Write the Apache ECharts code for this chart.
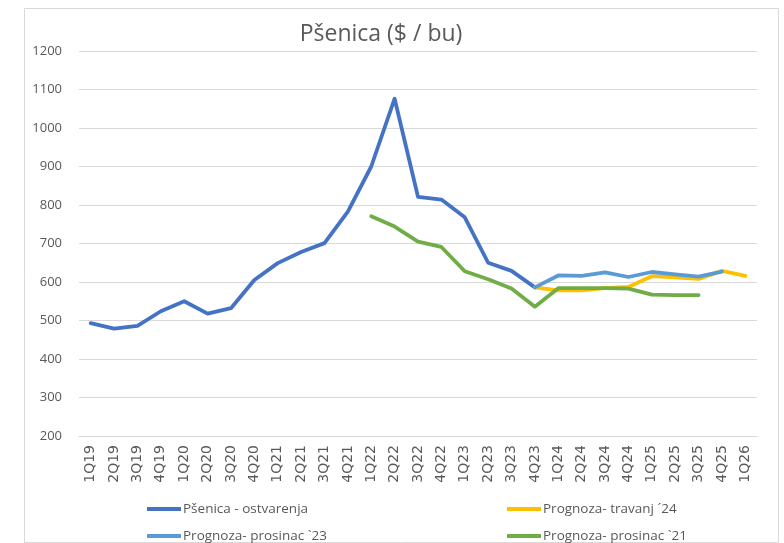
<!DOCTYPE html>
<html><head><meta charset="utf-8">
<script src="https://cdn.jsdelivr.net/npm/echarts@6/dist/echarts.min.js"></script>
<style>html,body{margin:0;padding:0;background:#fff}#c{width:784px;height:543px}</style>
</head><body><div id="c"></div>
<script>
const categories = ['1Q19','2Q19','3Q19','4Q19','1Q20','2Q20','3Q20','4Q20','1Q21','2Q21','3Q21','4Q21','1Q22','2Q22','3Q22','4Q22','1Q23','2Q23','3Q23','4Q23','1Q24','2Q24','3Q24','4Q24','1Q25','2Q25','3Q25','4Q25','1Q26'];
const ostvarenja = [493,479,486,524,550,518,532,605,649,678,701,783,900,1076,821,814,768,650,629,586,null,null,null,null,null,null,null,null,null];
const travanj24 = [null,null,null,null,null,null,null,null,null,null,null,null,null,null,null,null,null,null,null,586,578,578,584,587,615,612,608,629,616];
const prosinac23 = [null,null,null,null,null,null,null,null,null,null,null,null,null,null,null,null,null,null,null,586,617,616,625,613,626,620,614,627,null];
const prosinac21 = [null,null,null,null,null,null,null,null,null,null,null,null,771,744,705,691,628,607,583,536,584,584,584,583,567,566,566,null,null];
const seriesNames = ['Pšenica - ostvarenja','Prognoza- travanj ´24','Prognoza- prosinac `23','Prognoza- prosinac `21'];
const colors = ['#4472C4','#FFC000','#5B9BD5','#70AD47'];
const yMin = 200, yMax = 1200, yStep = 100;

const FONT = 'Open Sans';
const dataSets = [ostvarenja, travanj24, prosinac23, prosinac21];
const chart = echarts.init(document.getElementById('c'), null, {renderer:'canvas'});
function legendAt(i, left, top){
  return {data:[seriesNames[i]], left:left, top:top, padding:0, icon:'rect', itemWidth:34, itemHeight:4, itemGap:0,
    textStyle:{fontFamily:FONT, fontSize:13.5, color:'#595959', padding:[0,0,0,-3]}, selectedMode:false};
}
chart.setOption({
  animation:false,
  backgroundColor:'#fff',
  graphic:[{type:'rect', shape:{x:24.5,y:8.5,width:754,height:534}, style:{fill:'none', stroke:'#d9d9d9', lineWidth:1}, silent:true}],
  title:{text:'Pšenica ($ / bu)', left:376, top:18, textAlign:'center',
    textStyle:{fontFamily:FONT, fontSize:23, fontWeight:'normal', color:'#595959'}},
  grid:{left:79, right:27, top:51, bottom:107, containLabel:false},
  legend:[legendAt(0,147,502), legendAt(1,507,502), legendAt(2,147,529), legendAt(3,507,529)],
  xAxis:{type:'category', data:categories, boundaryGap:true,
    axisLine:{show:true, lineStyle:{color:'#d9d9d9', width:1}}, axisTick:{show:false},
    axisLabel:{rotate:90, interval:0, margin:9, fontFamily:'DejaVu Sans', fontSize:14, color:'#595959'}},
  yAxis:{type:'value', min:yMin, max:yMax, interval:yStep,
    axisLine:{show:false}, axisTick:{show:false},
    splitLine:{lineStyle:{color:'#d9d9d9', width:1}},
    axisLabel:{margin:17, fontFamily:FONT, fontSize:13, color:'#595959', formatter:(v)=>String(v)}},
  series: dataSets.map((d,i)=>({name:seriesNames[i], type:'line', data:d, symbol:'none', showSymbol:false,
    connectNulls:false, color:colors[i], lineStyle:{color:colors[i], width:3.8, cap:'round', join:'round'}, z:2+i}))
});
</script></body></html>
